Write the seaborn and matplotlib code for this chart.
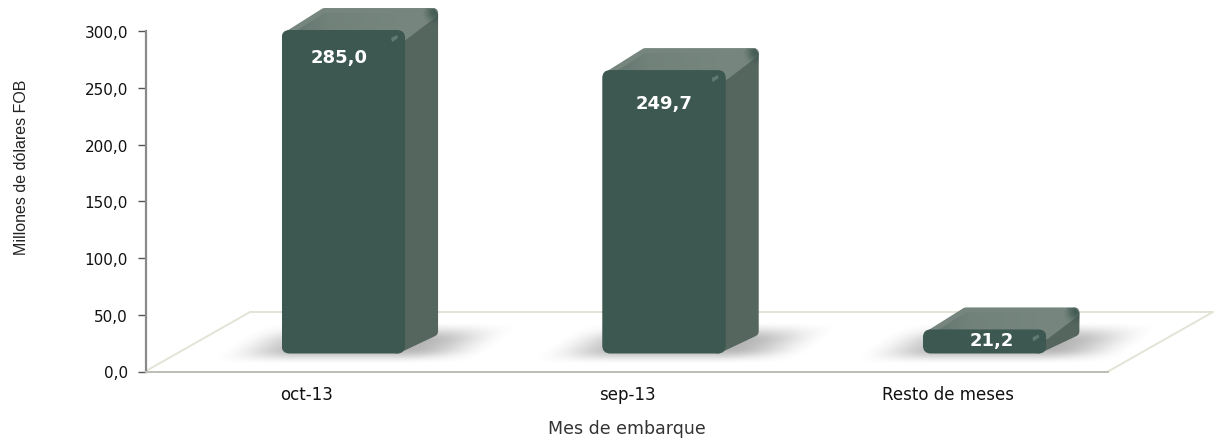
import numpy as np
import pandas as pd
import seaborn as sns
import matplotlib
matplotlib.use("Agg")
import matplotlib.pyplot as plt
from matplotlib.patches import FancyBboxPatch, Polygon

categories = ["oct-13", "sep-13", "Resto de meses"]
values = [285.0, 249.7, 21.2]
value_labels = ["285,0", "249,7", "21,2"]
y_ticks = [0, 50, 100, 150, 200, 250, 300]
y_tick_labels = ["0,0", "50,0", "100,0", "150,0", "200,0", "250,0", "300,0"]

W, H = 1217, 439
FRONT = "#3D5850"; TOP = "#76867F"; SIDE = "#55665F"; DARK = "#3A544B"

sns.set_theme(style="white")
fig = plt.figure(figsize=(W / 100, H / 100), dpi=100, facecolor="white")

def rect(l, t, r, b):
    return [l / W, 1 - b / H, (r - l) / W, (b - t) / H]

# pixel layer for floor / shadows / 3D faces
ax_px = fig.add_axes([0, 0, 1, 1], zorder=0)
ax_px.axis("off")

# main frame
ax = fig.add_axes(rect(146, 32, 1108, 372.5), zorder=1, facecolor="none")
ax.set_xlim(-0.5, 2.5); ax.set_ylim(0, 300)
ax.set_yticks(y_ticks); ax.set_yticklabels(y_tick_labels, fontsize=11, family="DejaVu Sans", color="#111111")
ax.set_xticks([-0.5, 0.5, 1.5, 2.5]); ax.set_xticklabels([])
ax.set_xticks([0, 1, 2], minor=True)
ax.set_xticklabels(categories, minor=True, fontsize=12, family="DejaVu Sans", color="#111111")
ax.tick_params(axis="x", which="minor", length=0, pad=10)
ax.tick_params(axis="x", which="major", length=4, width=1.2, color="#808080")
ax.tick_params(axis="y", length=6, width=1.0, color="#555555", pad=7, left=True)
for s in ["top", "right"]:
    ax.spines[s].set_visible(False)
ax.spines["left"].set_color("#8A8A8A"); ax.spines["left"].set_linewidth(1.6)
ax.spines["bottom"].set_color("#BDBDB8"); ax.spines["bottom"].set_linewidth(1.4)
fig.text(627 / W, 1 - 429 / H, "Mes de embarque", ha="center", va="center",
         fontsize=12.5, family="DejaVu Sans", color="#333333")
fig.text(22 / W, 1 - 167 / H, "Millones de dólares FOB", rotation=90, ha="center", va="center",
         fontsize=11.5, family=["Liberation Sans Narrow", "Liberation Sans"], color="#222222")

# front plane of the bars: same scale, shifted by the 3D floor offset
ax_bar = fig.add_axes(rect(146 + 37, 32 - 18, 1108 + 37, 372.5 - 18), zorder=2, facecolor="none")
df = pd.DataFrame({"Mes": categories, "Valor": values})
sns.barplot(data=df, x="Mes", y="Valor", ax=ax_bar, color=FRONT, saturation=1, width=0.385,
            edgecolor="none", linewidth=0)
ax_bar.set_xlim(-0.5, 2.5); ax_bar.set_ylim(0, 300)
ax_bar.axis("off")

DX, DY = 33, 22
fig.canvas.draw()
to_px = lambda x, y: (lambda p: (p[0], H - p[1]))(ax_bar.transData.transform((x, y)))

ax_px.set_xlim(0, W); ax_px.set_ylim(H, 0)

# floor
ax_px.plot([146, 250, 1213, 1108], [372, 313, 313, 372.5], color="#E3E3D6", lw=1.4, zorder=1)

yy, xx = np.mgrid[300:372:1.0, 0:W:1.0]
sm = lambda t: np.clip(t, 0, 1) ** 2 * (3 - 2 * np.clip(t, 0, 1))

def hexrgb(c):
    return np.array(matplotlib.colors.to_rgb(c))

for p, lab, off, dxl in zip(ax_bar.patches, value_labels, [27, 33, 11], [-4, 0, 7]):
    x0, v = p.get_x(), p.get_height()
    x1 = x0 + p.get_width()
    L, B = to_px(x0, 0); R, T = to_px(x1, v)

    # soft shadow on floor
    sk = (360 - yy) * 1.4
    ax_l, ax_r = L - 75 + sk, R + 75 + sk
    a = sm((xx - ax_l) / 85) * sm((ax_r - xx) / 85) * sm((yy - 322) / 20) * sm((365 - yy) / 16)
    rgba = np.zeros(a.shape + (4,))
    rgba[..., :3] = 0.25
    rgba[..., 3] = a * 0.38
    ax_px.imshow(rgba, extent=(0, W, 372, 300), aspect="auto", zorder=2, interpolation="bilinear")

    # side and top faces (inset polygon with a round-joined stroke = rounded corners)
    r = 5
    side = [(R - 4, T + r), (R + DX - r, T - DY + r), (R + DX - r, B - DY), (R - 8, B - r)]
    side_p = Polygon(side, closed=True, fc=SIDE, ec=SIDE, lw=2 * r * 0.72, joinstyle="round", zorder=3)
    ax_px.add_patch(side_p)
    top = [(L + r + 3, T + r), (L + DX + 10, T - DY + r), (R + DX - r, T - DY + r), (R - 1, T + r)]
    top_p = Polygon(top, closed=True, fc=TOP, ec=TOP, lw=2 * r * 0.72, joinstyle="round", zorder=4)
    ax_px.add_patch(top_p)

    # gradient on the top face: darker at the front left, lighter in the middle
    ty, tx = np.mgrid[T - DY - 5:T + 8:1.0, L:R + DX + 2:1.0]
    u = (tx - L) / (R + DX - L)
    shade = np.interp(u, [0, 0.3, 0.75, 1], [0.4, 0.08, 0.0, 0.0])
    g = np.zeros(tx.shape + (4,))
    g[..., :3] = hexrgb(DARK)
    g[..., 3] = shade
    im = ax_px.imshow(g, extent=(L, R + DX + 2, T + 8, T - DY - 5), aspect="auto", zorder=5, interpolation="bilinear")
    im.set_clip_path(Polygon(top, closed=True, transform=ax_px.transData))

    # dark patch round the back-right corner of the silhouette
    cy, cx = np.mgrid[T - DY - 3:T + 18:1.0, R - 2:R + DX + 3:1.0]
    dist = np.hypot(cx - (R + DX - 3), cy - (T - DY + 4))
    c = np.zeros(cx.shape + (4,))
    c[..., :3] = hexrgb(DARK)
    c[..., 3] = 0.85 * (1 - sm(dist / 15))
    im2 = ax_px.imshow(c, extent=(R - 2, R + DX + 3, T + 18, T - DY - 3), aspect="auto", zorder=6, interpolation="bilinear")
    sil = [(R - 2, T + 2), (R + DX - 12, T - DY), (R + DX - 3, T - DY + 1), (R + DX, T - DY + 6), (R + DX, T - DY + 30), (R - 2, T + 30)]
    im2.set_clip_path(Polygon(sil, closed=True, transform=ax_px.transData))

    # rounded clip of the seaborn bar
    rr = 8
    round_box = FancyBboxPatch((L + rr, T + rr), R - L - 2 * rr, B - T - 2 * rr,
                               boxstyle=f"round,pad={rr},rounding_size={rr}",
                               transform=ax_px.transData, fc="none", ec="none")
    ax_px.add_patch(round_box)
    p.set_clip_path(round_box)
    # highlight near the front-top-right corner
    ax_bar.add_patch(Polygon([(R - 14, T + 8), (R - 8, T + 5), (R - 7, T + 8), (R - 13, T + 12)],
                             closed=True, fc="#6E8A80", ec="none", alpha=0.7, zorder=8,
                             transform=ax_px.transData))

    ax_bar.annotate(lab, (x0 + p.get_width() / 2, v), xytext=(dxl * 0.72, -off * 0.72),
                    textcoords="offset points", ha="center", va="center", color="white",
                    fontsize=13, fontweight="bold", family="DejaVu Sans", zorder=10)

ax_px.set_xlim(0, W); ax_px.set_ylim(H, 0)
fig.savefig("out.png", dpi=100)
